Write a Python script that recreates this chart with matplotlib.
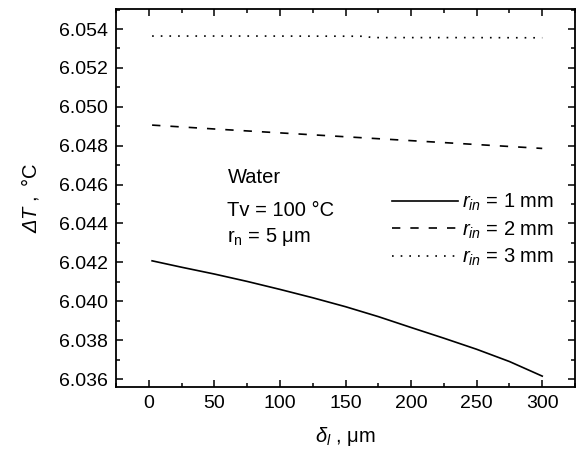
import numpy as np
import matplotlib
matplotlib.use("Agg")
import matplotlib.pyplot as plt
from matplotlib.ticker import MultipleLocator

plt.rcParams["font.family"] = ["Liberation Sans", "DejaVu Sans"]
plt.rcParams["mathtext.fontset"] = "custom"
plt.rcParams["mathtext.rm"] = "Liberation Sans"
plt.rcParams["mathtext.it"] = "Liberation Sans:italic"
plt.rcParams["mathtext.sf"] = "Liberation Sans"

# delta_l (um) and dT (C)
x_sol = [2.5, 25, 50, 75, 100, 125, 150, 175, 200, 225, 250, 275, 300]
y_sol = [6.04208, 6.04175, 6.04140, 6.04102, 6.04061, 6.04018, 6.03972,
         6.03921, 6.03865, 6.03810, 6.03753, 6.03690, 6.03615]
x_dash = [2.5, 50, 100, 150, 200, 250, 300]
y_dash = [6.04906, 6.04886, 6.04866, 6.04846, 6.04826, 6.04806, 6.04786]
x_dot = [2.5, 80, 165, 170, 240, 300]
y_dot = [6.05364, 6.05364, 6.05363, 6.05356, 6.05356, 6.05355]
labels = [r"$r_{in}$ = 1 mm", r"$r_{in}$ = 2 mm", r"$r_{in}$ = 3 mm"]

fig = plt.figure(figsize=(5.81, 4.51), dpi=100)
ax = fig.add_axes([0.1997, 0.1419, 0.79, 0.8381])

ax.plot(x_sol, y_sol, "k-", lw=1.2, label=labels[0])
ax.plot(x_dash, y_dash, "k", lw=1.2, dashes=(5, 6), label=labels[1])
ax.plot(x_dot, y_dot, "k", lw=1.2, dashes=(1, 4.2), label=labels[2])

ax.set_xlim(-25, 325)
ax.set_ylim(6.03559, 6.05503)
ax.xaxis.set_major_locator(MultipleLocator(50))
ax.xaxis.set_minor_locator(MultipleLocator(25))
ax.yaxis.set_major_locator(MultipleLocator(0.002))
ax.yaxis.set_minor_locator(MultipleLocator(0.001))
ax.yaxis.set_major_formatter(matplotlib.ticker.FormatStrFormatter("%.3f"))
ax.tick_params(which="both", direction="in", top=True, right=True,
               labelsize=14, width=1.1)
ax.tick_params(which="major", length=5, pad=6)
ax.tick_params(which="minor", length=3)
for s in ax.spines.values():
    s.set_linewidth(1.3)

ax.set_xlabel(r"$\delta_l$ , μm", fontsize=14.5, labelpad=9)
ax.set_ylabel(r"ΔT $\mathrm{,\ °C}$", fontsize=14.5, labelpad=13,
              fontstyle="italic")

ax.text(60, 6.04634, "Water", fontsize=14.5, va="center")
ax.text(60, 6.04469, "Tv = 100 °C", fontsize=14.5, va="center")
ax.text(60, 6.0433, r"r$_{\rm n}$ = 5 μm", fontsize=14.5, va="center")

ax.legend(loc="center right", bbox_to_anchor=(0.955, 0.415), frameon=False,
          fontsize=14.5, handlelength=3.3, handletextpad=0.2,
          labelspacing=0.3, borderpad=0, borderaxespad=0)

fig.savefig("out.png", dpi=100)
